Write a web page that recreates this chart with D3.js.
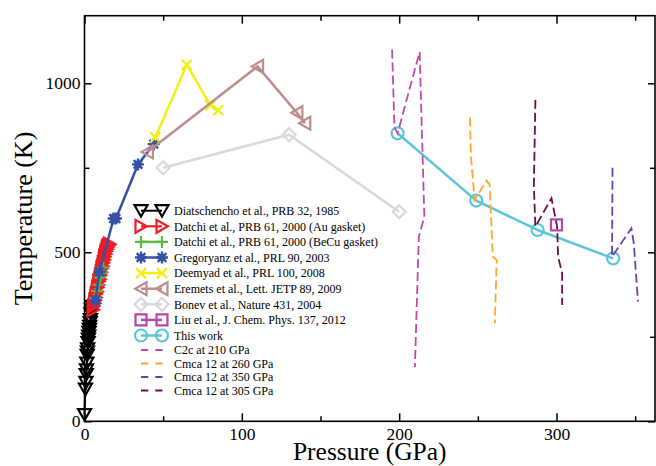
<!DOCTYPE html>
<html><head><meta charset="utf-8">
<script src="https://cdn.jsdelivr.net/npm/d3@7"></script>
<style>body{margin:0;background:#fff}svg{display:block}</style>
</head><body>
<svg id="c" width="656" height="466"></svg>
<script>
// ---------- data (Pressure GPa, Temperature K) ----------
const diatschencho = [[0,20],[0.6,95],[0.9,115],[1.1,138],[1.3,152],[1.5,172],[1.7,195],[1.9,205],[2.0,214],[2.3,233],[2.5,243],[2.7,252],[2.9,263],[3.1,272],[3.3,281],[3.6,292],[3.8,301],[4.2,318],[4.6,330],[4.9,340]];
const datchiAu = [[5.5,330],[5.8,341],[6.4,349],[6.6,358],[7.2,366],[7.4,377],[8.0,384],[8.3,396],[8.9,403],[9.1,414],[9.8,420],[10.1,432],[10.6,441],[11.0,452],[11.6,459],[11.9,469],[12.5,478],[12.8,487],[13.4,495],[13.7,503],[14.3,509],[14.6,515],[15.2,520],[16.0,524]];
const datchiBeCu = [[7,365],[8,386],[9,404],[10,426],[11,440],[12,455]];
const gregoryanz = [[7,358],[9.5,442],[18.5,600],[20,600],[34,760],[44,820]];
const deemyad = [[45,840],[65,1055],[80,935],[85,920]];
const eremets = [[40,797],[110,1050],[135,913],[140,882]];
const bonev = [[50,750],[130,848],[200,620]];
const liu = [[300,581]];
const thisWork = [[199,852],[249,653],[288,566],[336,482]];
const c2c210 = [[195.5,1100],[197,870],[199,852],[213,1093],[216,605],[212.5,546],[210,160]];
const cmca260 = [[245,899],[245.6,783],[248,655],[255.5,712],[257.5,700],[259.5,487],[262,477],[260.8,290]];
const cmca350 = [[335.6,750],[335.3,487],[347.6,571],[349.1,527],[351.8,354]];
const cmca305 = [[286.6,951],[285.6,695],[286.6,576],[296.8,660],[300.4,576],[301,487],[303.6,438],[303.6,344]];

const xMajor = [0,100,200,300];
const xMinor = [50,150,250,350];
const yMajor = [0,500,1000];
const yMinor = [250,750];
const xTitle = "Pressure (GPa)";
const yTitle = "Temperature (K)";

const markerSeries = [
  {name:"Diatschencho et al., PRB 32, 1985", data:diatschencho, color:"#000000", sym:"triD", lw:2},
  {name:"Datchi et al., PRB 61, 2000 (Au gasket)", data:datchiAu, color:"#ee1c24", sym:"triR", lw:2.2},
  {name:"Datchi et al., PRB 61, 2000 (BeCu gasket)", data:datchiBeCu, color:"#5cb946", sym:"plus", lw:2.5},
  {name:"Gregoryanz et al., PRL 90, 2003", data:gregoryanz, color:"#3451a6", sym:"gear", lw:2.5},
  {name:"Deemyad et al., PRL 100, 2008", data:deemyad, color:"#f2ef12", sym:"x", lw:2.5},
  {name:"Eremets et al., Lett. JETP 89, 2009", data:eremets, color:"#bc8d8a", sym:"triL", lw:2.5},
  {name:"Bonev et al., Nature 431, 2004", data:bonev, color:"#d9d9d9", sym:"diamond", lw:2.5},
  {name:"Liu et al., J. Chem. Phys. 137, 2012", data:liu, color:"#b447a8", sym:"square", lw:2.5},
  {name:"This work", data:thisWork, color:"#5cc6d8", sym:"circle", lw:2.5}
];
const dashSeries = [
  {name:"C2c at 210 GPa", data:c2c210, color:"#c04aa6"},
  {name:"Cmca 12 at 260 GPa", data:cmca260, color:"#ffa52a"},
  {name:"Cmca 12 at 350 GPa", data:cmca350, color:"#6e42ae"},
  {name:"Cmca 12 at 305 GPa", data:cmca305, color:"#6b0d4c"}
];

// ---------- layout ----------
const svg = d3.select("#c");
const L=84.5, R=655, T=15.7, B=421.3;
const x = d3.scaleLinear().domain([0,362.6]).range([L,R]);
const y = d3.scaleLinear().domain([0,1200]).range([B,T]);
const serif = "'Liberation Serif','Times New Roman',serif";

function markerPath(sym){
  switch(sym){
    case "triD": return "M-6.5,-5.5L6.5,-5.5L0,5.8Z";
    case "triR": return "M-5.5,-6.5L-5.5,6.5L5.8,0Z";
    case "triL": return "M5.5,-6.5L5.5,6.5L-5.8,0Z";
    case "plus": return "M-6,0H6M0,-6V6";
    case "x": return "M-5,-5L5,5M-5,5L5,-5";
    case "diamond": return "M0,-6.5L6.5,0L0,6.5L-6.5,0Z";
    case "square": return "M-5.5,-5.5H5.5V5.5H-5.5Z";
    case "gear": return "M-6,0H6M0,-6V6M-4.3,-4.3L4.3,4.3M-4.3,4.3L4.3,-4.3";
  }
  return null;
}
function drawMarker(g, sym, color){
  if(sym==="circle"){
    g.append("circle").attr("r",6).attr("fill","none").attr("stroke",color).attr("stroke-width",2.2);
  } else if(sym==="gear"){
    g.append("circle").attr("r",3.8).attr("fill",color);
    g.append("path").attr("d",markerPath(sym)).attr("fill","none").attr("stroke",color).attr("stroke-width",2.4);
  } else {
    g.append("path").attr("d",markerPath(sym)).attr("fill","none").attr("stroke",color).attr("stroke-width",2.2).attr("stroke-linejoin","miter");
  }
}

const line = d3.line().x(d=>x(d[0])).y(d=>y(d[1]));

// ---------- series ----------
const plot = svg.append("g");
markerSeries.forEach(s=>{
  if(s.data.length>1){
    plot.append("path").datum(s.data).attr("d",line).attr("fill","none")
      .attr("stroke",s.color).attr("stroke-width",s.lw).attr("stroke-linejoin","round");
  }
  s.data.forEach(d=>{
    const g = plot.append("g").attr("transform",`translate(${x(d[0])},${y(d[1])})`);
    drawMarker(g, s.sym, s.color);
  });
});
dashSeries.forEach(s=>{
  plot.append("path").datum(s.data).attr("d",line).attr("fill","none")
    .attr("stroke",s.color).attr("stroke-width",1.8).attr("stroke-dasharray","9,4");
});

// ---------- axes ----------
function styleAxis(g){
  g.attr("font-family",serif);
  g.select(".domain").remove();
  g.selectAll(".tick line").attr("stroke","#000").attr("stroke-width",1.5);
  g.selectAll(".tick text").attr("fill","#000").attr("font-family",serif).style("font-family",serif).style("font-size","17.5px");
}
svg.append("g").attr("transform",`translate(0,${B})`)
  .call(d3.axisBottom(x).tickValues(xMajor).tickSize(-8).tickPadding(6).tickFormat(d3.format("d"))).call(styleAxis);
svg.append("g").attr("transform",`translate(0,${B})`)
  .call(d3.axisBottom(x).tickValues(xMinor).tickSize(-5).tickFormat("")).call(styleAxis);
svg.append("g").attr("transform",`translate(0,${T})`)
  .call(d3.axisTop(x).tickValues(xMajor).tickSize(-8).tickFormat("")).call(styleAxis);
svg.append("g").attr("transform",`translate(0,${T})`)
  .call(d3.axisTop(x).tickValues(xMinor).tickSize(-5).tickFormat("")).call(styleAxis);
svg.append("g").attr("transform",`translate(${L},0)`)
  .call(d3.axisLeft(y).tickValues(yMajor).tickSize(-7).tickPadding(4).tickFormat(d3.format("d"))).call(styleAxis);
svg.append("g").attr("transform",`translate(${L},0)`)
  .call(d3.axisLeft(y).tickValues(yMinor).tickSize(-5).tickFormat("")).call(styleAxis);
svg.append("g").attr("transform",`translate(${R},0)`)
  .call(d3.axisRight(y).tickValues(yMajor).tickSize(-7).tickFormat("")).call(styleAxis);
svg.append("g").attr("transform",`translate(${R},0)`)
  .call(d3.axisRight(y).tickValues(yMinor).tickSize(-5).tickFormat("")).call(styleAxis);

svg.append("rect").attr("x",L).attr("y",T).attr("width",R-L).attr("height",B-T)
  .attr("fill","none").attr("stroke","#000").attr("stroke-width",1.6);

svg.append("text").attr("x",(L+R)/2).attr("y",459.5).attr("text-anchor","middle")
  .attr("font-family",serif).style("font-size","25.5px").text(xTitle);
svg.append("text").attr("transform",`translate(32,${(T+B)/2}) rotate(-90)`).attr("text-anchor","middle")
  .attr("font-family",serif).style("font-size","26px").text(yTitle);

// ---------- legend ----------
const leg = svg.append("g");
const mRows = [210.7,226.3,241.9,257.5,273.1,288.7,304.3,319.9,335.5];
const dRows = [350,363.5,377,390.5];
markerSeries.forEach((s,i)=>{
  const ry = mRows[i];
  leg.append("line").attr("x1",141).attr("x2",162).attr("y1",ry).attr("y2",ry)
    .attr("stroke",s.color).attr("stroke-width",s.lw);
  [141,162].forEach(px=>{
    const g = leg.append("g").attr("transform",`translate(${px},${ry})`);
    drawMarker(g, s.sym, s.color);
  });
  leg.append("text").attr("x",174).attr("y",ry).attr("dy","0.35em")
    .attr("font-family",serif).style("font-size","12px").text(s.name);
});
dashSeries.forEach((s,i)=>{
  const ry = dRows[i];
  leg.append("line").attr("x1",141).attr("x2",162.5).attr("y1",ry).attr("y2",ry)
    .attr("stroke",s.color).attr("stroke-width",1.8).attr("stroke-dasharray","7.3,7");
  leg.append("text").attr("x",174).attr("y",ry).attr("dy","0.35em")
    .attr("font-family",serif).style("font-size","12px").text(s.name);
});
</script>
</body></html>
